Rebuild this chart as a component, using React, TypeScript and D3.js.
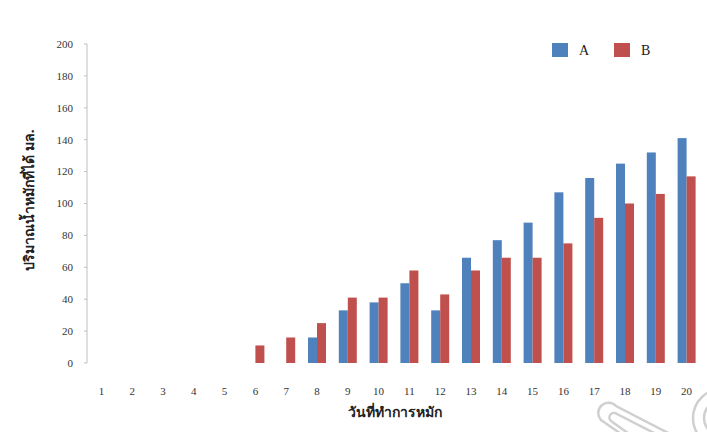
import React from "react";
import * as d3 from "d3";

const categories = ["1","2","3","4","5","6","7","8","9","10","11","12","13","14","15","16","17","18","19","20"];
const seriesNames = ["A", "B"];
const seriesA = [0,0,0,0,0,0,0,16,33,38,50,33,66,77,88,107,116,125,132,141];
const seriesB = [0,0,0,0,0,11,16,25,41,41,58,43,58,66,66,75,91,100,106,117];
const yTicks = [0,20,40,60,80,100,120,140,160,180,200];
const colors = ["#4F81BD", "#C0504D"];
const xTitle = "วันที่ทำการหมัก";
const yTitle = "ปริมาณน้ำหมักที่ได้ มล.";

export default function App() {
  const W = 707, H = 432;
  const left = 86, right = 702, top = 44, bottom = 363;
  const x0 = d3.scaleBand<string>().domain(categories).range([left, right]);
  const groupW = 18;
  const x1 = d3.scaleBand<string>().domain(seriesNames).range([0, groupW]);
  const y = d3.scaleLinear().domain([0, 200]).range([bottom, top]);
  const series = [seriesA, seriesB];
  const font = "'Liberation Serif', 'Times New Roman', serif";

  return (
    <svg width={W} height={H} style={{ position: "absolute", left: 0, top: 0, background: "#fff" }}>
      <line x1={87} x2={87} y1={top} y2={bottom} stroke="#bfbfbf" strokeWidth={1} />
      {yTicks.map((t) => (
        <g key={t}>
          <line x1={84} x2={87} y1={y(t)} y2={y(t)} stroke="#bfbfbf" />
          <text x={73} y={y(t)} dy="0.35em" textAnchor="end" fontFamily={font} fontSize={11} fill="#333">{t}</text>
        </g>
      ))}
      {series.map((vals, si) =>
        vals.map((v, i) =>
          v > 0 ? (
            <rect
              key={si + "-" + i}
              x={(x0(categories[i]) as number) + x0.bandwidth() / 2 - groupW / 2 + (x1(seriesNames[si]) as number)}
              y={y(v)}
              width={x1.bandwidth()}
              height={bottom - y(v)}
              fill={colors[si]}
            />
          ) : null
        )
      )}
      {categories.map((c) => (
        <text key={c} x={(x0(c) as number) + x0.bandwidth() / 2} y={391} dy="0.35em" textAnchor="middle" fontFamily={font} fontSize={11} fill="#333">{c}</text>
      ))}
      <text x={395} y={417} textAnchor="middle" fontFamily="'Noto Sans', 'DejaVu Sans', sans-serif" fontWeight="bold" fontSize={14} fill="#222">{xTitle}</text>
      <text transform="translate(34,200) rotate(-90)" textAnchor="middle" fontFamily="'Noto Sans', 'DejaVu Sans', sans-serif" fontWeight="bold" fontSize={14} fill="#222">{yTitle}</text>
      {seriesNames.map((s, i) => (
        <g key={s} transform={`translate(${552 + i * 62},43)`}>
          <rect x={0} y={0} width={16} height={14} fill={colors[i]} />
          <text x={27} y={7} dy="0.35em" fontFamily={font} fontSize={14} fill="#222">{s}</text>
        </g>
      ))}
      <g fill="none" stroke="#d0d0d0" strokeWidth={2.5}>
        <path d="M674,436 L616,406 A9,9 0 0 0 601,420 L624,436" />
        <path d="M660,436 L617,414 A4,4 0 0 0 611,421 L632,436" />
        <circle cx={722} cy={418} r={29} />
        <circle cx={722} cy={418} r={18} />
      </g>
    </svg>
  );
}
